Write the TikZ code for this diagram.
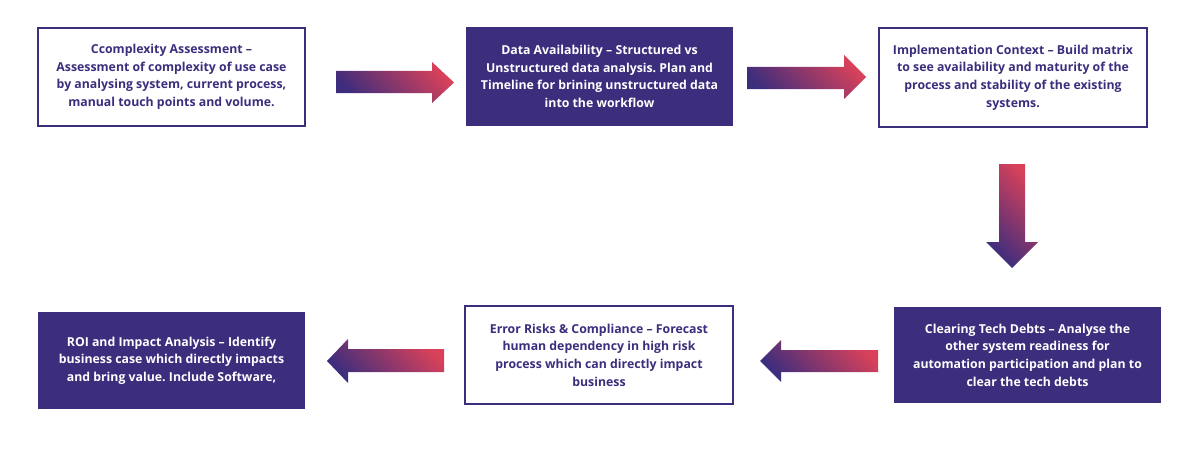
\documentclass[tikz,border=0pt]{standalone}
\usepackage{fontspec}
\setmainfont{Open Sans}
\frenchspacing
\definecolor{pp}{HTML}{3C2D7D}
\definecolor{rd}{HTML}{D9415A}
\begin{document}
\begin{tikzpicture}[x=1pt,y=-1pt,
  basebox/.style={rectangle, inner sep=0pt, align=center,
    font=\bfseries\fontsize{12.3}{17.6}\selectfont},
  outbox/.style={basebox, draw=pp, line width=2pt, fill=white, text=pp},
  fillbox/.style={basebox, fill=pp, text=white},
  flow/.style={top color=pp, bottom color=rd, shading angle=135}]
\useasboundingbox (0,0) rectangle (1191,452);
\fill[white] (0,0) rectangle (1191,452);

\node[outbox, minimum width=267pt, minimum height=98pt] (b1) at (171.5,77)
  {Ccomplexity Assessment --\\Assessment of complexity of use case\\by analysing system, current process,\\manual touch points and volume.};
\node[fillbox, minimum width=267pt, minimum height=99pt] (b2) at (599.5,76.5)
  {Data Availability -- Structured vs\\Unstructured data analysis. Plan and\\Timeline for brining unstructured data\\into the workflow};
\node[outbox, minimum width=268pt, minimum height=99pt] (b3) at (1013,77.5)
  {Implementation Context -- Build matrix\\to see availability and maturity of the\\process and stability of the existing\\systems.};
\node[fillbox, minimum width=267pt, minimum height=96pt] (b4) at (1027.5,355)
  {Clearing Tech Debts -- Analyse the\\other system readiness for\\automation participation and plan to\\clear the tech debts};
\node[outbox, minimum width=268pt, minimum height=98pt] (b5) at (599,355)
  {Error Risks \& Compliance -- Forecast\\human dependency in high risk\\process which can directly impact\\business};
\node[fillbox, minimum width=267pt, minimum height=97pt] (b6) at (171.5,360.5)
  {ROI and Impact Analysis -- Identify\\business case which directly impacts\\and bring value. Include Software,};

% block arrows
\shade[flow] (336,71) -- (432,71) -- (432,62) -- (454,82.5) -- (432,103) -- (432,93) -- (336,93) -- cycle;
\shade[flow] (747,67) -- (844,67) -- (844,55) -- (866,77) -- (844,99) -- (844,89) -- (747,89) -- cycle;
\shade[flow] (999,164) -- (1025,164) -- (1025,242) -- (1038,242) -- (1012,268) -- (986,242) -- (999,242) -- cycle;
\shade[flow] (878,350) -- (781,350) -- (781,340) -- (760,361) -- (781,382) -- (781,372) -- (878,372) -- cycle;
\shade[flow] (444,349) -- (348,349) -- (348,339) -- (327,361) -- (348,383) -- (348,372) -- (444,372) -- cycle;
\end{tikzpicture}
\end{document}
